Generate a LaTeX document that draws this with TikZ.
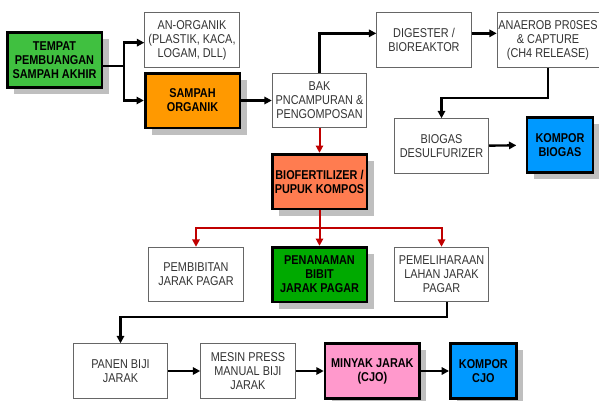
\documentclass[tikz,border=0pt]{standalone}
\usepackage{fontspec}
\setmainfont{Liberation Sans}[FakeStretch=0.85]
\usetikzlibrary{arrows.meta, positioning, shadows}
\definecolor{hijau}{RGB}{64,192,64}
\definecolor{hijautua}{RGB}{0,170,0}
\definecolor{oranye}{RGB}{255,153,0}
\definecolor{koral}{RGB}{255,124,80}
\definecolor{biru}{RGB}{0,153,255}
\definecolor{merahmuda}{RGB}{255,153,204}
\definecolor{merahtua}{RGB}{192,0,0}

\begin{document}
\begin{tikzpicture}[
    x=0.75pt, y=-0.75pt,
    kotak/.style = {rectangle, draw=black!60, line width=0.6pt, fill=white, text=black!80,
        minimum width=71pt, minimum height=41pt, inner sep=1pt, align=center,
        font=\fontsize{9.6}{10.6}\selectfont},
    warna/.style = {kotak, draw=black, line width=2pt, text=black,
        font=\fontsize{9.6}{10.4}\selectfont\bfseries,
        drop shadow={shadow xshift=5pt, shadow yshift=-5pt, fill=black!25, opacity=1}},
    kecil/.style = {minimum width=49.5pt},
    panah/.style = {black, line width=1.8pt, -{Triangle[length=5.5pt,width=5.5pt]}},
    panahmerah/.style = {panah, merahtua, line width=1.5pt}
    ]

  \useasboundingbox (0,0) rectangle (599,400);

  % baris atas
  \node[warna, fill=hijau] (tempat) at (54.5,60) {TEMPAT\\PEMBUANGAN\\SAMPAH AKHIR} ;
  \node[kotak] (anorganik) at (192,40) {AN-ORGANIK\\(PLASTIK, KACA,\\LOGAM, DLL)} ;
  \node[warna, fill=oranye] (sampah) at (192.5,100.5) {SAMPAH\\ORGANIK} ;
  \node[kotak] (bak) at (319.5,100.5) {BAK\\PNCAMPURAN \&\\PENGOMPOSAN} ;
  \node[kotak] (digester) at (424,40) {DIGESTER /\\BIOREAKTOR} ;
  \node[kotak] (anaerob) at (548,40) {ANAEROB PR0SES\\\& CAPTURE\\(CH4 RELEASE)} ;
  \node[kotak] (biogas) at (441.5,146) {BIOGAS\\DESULFURIZER} ;
  \node[warna, kecil, fill=biru] (komporbio) at (560,145) {KOMPOR\\BIOGAS} ;

  % kompos
  \node[warna, fill=koral] (biofert) at (319.5,181.5) {BIOFERTILIZER /\\PUPUK KOMPOS} ;
  \node[kotak] (pembibitan) at (196,274.5) {PEMBIBITAN\\JARAK PAGAR} ;
  \node[warna, fill=hijautua] (penanaman) at (319.5,274.5) {PENANAMAN\\BIBIT\\JARAK PAGAR} ;
  \node[kotak] (pemeliharaan) at (441.5,274.5) {PEMELIHARAAN\\LAHAN JARAK\\PAGAR} ;

  % baris bawah
  \node[kotak] (panen) at (120.5,371) {PANEN BIJI\\JARAK} ;
  \node[kotak] (mesin) [right=24pt of panen] {MESIN PRESS\\MANUAL BIJI\\JARAK} ;
  \node[warna, fill=merahmuda] (minyak) [right=21pt of mesin] {MINYAK JARAK\\(CJO)} ;
  \node[warna, kecil, fill=biru] (komporcjo) [right=21pt of minyak] {KOMPOR\\CJO} ;

  \coordinate (cabang) at (124,66) ;

  \draw[black, line width=1.8pt] (tempat.east |- cabang) -- (cabang) ;
  \draw[panah] (cabang) |- ([yshift=-2pt]anorganik.west) ;
  \draw[panah] (cabang) |- (sampah) ;
  \draw[panah] (sampah) -- (bak) ;
  \draw[panah] (bak.north) |- ([yshift=5pt]digester.west) ;
  \draw[panah] ([yshift=5pt]digester.east) -- ([yshift=5pt]anaerob.west) ;
  \draw[panah] (anaerob.south) -- ++(0,30) -| (biogas) ;
  \draw[panah, shorten >=7pt] (biogas) -- (komporbio) ;

  \draw[panahmerah] (bak) -- (biofert) ;
  \draw[merahtua, line width=1.5pt] (biofert.south) -- ++(0,18) coordinate (cabangmerah) ;
  \draw[panahmerah] (cabangmerah) -| (pembibitan) ;
  \draw[panahmerah] (cabangmerah) -- (penanaman) ;
  \draw[panahmerah] (cabangmerah) -| (pemeliharaan) ;

  \draw[panah] ([xshift=4pt]pemeliharaan.south) -- ++(0,15) -| (panen) ;
  \draw[panah] (panen) -- (mesin) ;
  \draw[panah] (mesin) -- (minyak) ;
  \draw[panah] (minyak) -- (komporcjo) ;

\end{tikzpicture}
\end{document}
